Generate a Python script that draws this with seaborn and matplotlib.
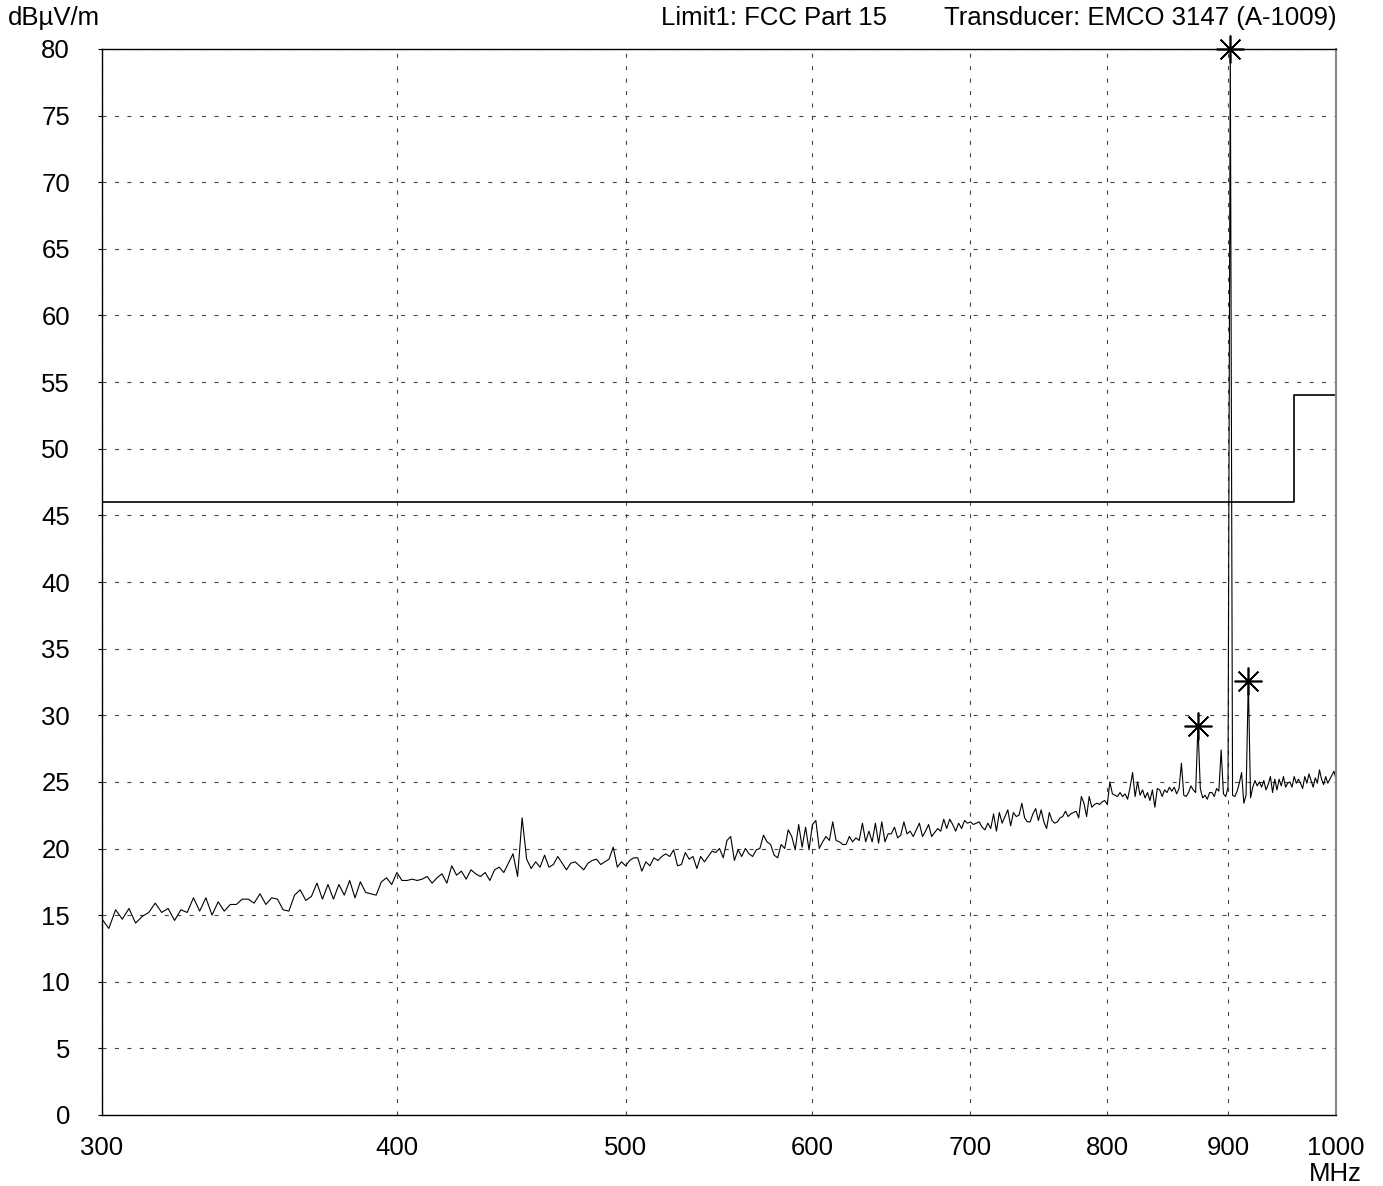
import numpy as np
import pandas as pd
import seaborn as sns
import matplotlib
matplotlib.use("Agg")
import matplotlib.pyplot as plt

# measured level (dBuV/m), one value every 2 MHz, split per 100 MHz band
level_300 = [14.7, 14.0, 15.4, 14.7, 15.5, 14.4, 14.9, 15.2, 15.9, 15.2,
             15.5, 14.6, 15.4, 15.2, 16.3, 15.3, 16.3, 15.0, 16.0, 15.3,
             15.8, 15.8, 16.2, 16.2, 15.9, 16.6, 15.8, 16.3, 16.2, 15.4,
             15.3, 16.5, 16.9, 16.1, 16.4, 17.4, 16.2, 17.3, 16.2, 17.3,
             16.5, 17.6, 16.3, 17.5, 16.7, 16.6, 16.5, 17.5, 17.8, 17.3]
level_400 = [18.2, 17.6, 17.6, 17.7, 17.6, 17.7, 17.9, 17.4, 17.8, 18.1,
             17.4, 18.7, 18.0, 18.3, 17.7, 18.4, 18.1, 17.9, 18.2, 17.6,
             18.4, 18.6, 18.2, 18.9, 19.6, 17.9, 22.3, 19.2, 18.5, 19.0,
             18.6, 19.5, 18.6, 18.8, 19.4, 18.9, 18.4, 18.9, 19.0, 18.7,
             18.4, 18.9, 19.1, 19.2, 18.8, 19.0, 19.2, 20.1, 18.6, 19.0]
level_500 = [18.7, 19.1, 19.3, 19.3, 18.3, 19.0, 18.7, 19.3, 19.1, 19.4,
             19.6, 19.4, 19.9, 18.7, 18.8, 19.7, 19.2, 19.4, 18.5, 19.4,
             19.0, 19.4, 19.8, 19.7, 20.0, 19.3, 20.6, 20.9, 19.1, 19.9,
             19.4, 20.0, 19.6, 19.4, 19.9, 20.0, 21.0, 20.5, 20.3, 19.5,
             19.3, 20.3, 20.0, 21.4, 20.9, 19.9, 21.8, 20.1, 21.6, 19.9]
level_600 = [21.8, 22.1, 20.0, 20.5, 20.9, 20.6, 22.0, 20.6, 20.5, 20.3,
             20.3, 20.9, 20.5, 20.8, 20.6, 21.9, 20.5, 21.3, 20.5, 21.9,
             20.4, 22.0, 20.5, 21.1, 21.1, 21.6, 20.8, 21.0, 22.0, 21.1,
             21.3, 20.9, 21.4, 21.9, 20.9, 21.3, 21.8, 20.9, 21.2, 21.5,
             21.3, 22.2, 21.5, 22.2, 21.8, 21.3, 21.9, 21.5, 22.1, 21.9]
level_700 = [22.0, 21.8, 21.9, 22.0, 21.6, 21.4, 21.9, 21.5, 22.6, 21.3,
             22.7, 21.9, 22.4, 22.9, 21.7, 22.7, 22.4, 22.5, 23.4, 22.3,
             22.0, 22.0, 22.6, 23.0, 22.1, 22.9, 22.0, 21.5, 22.7, 22.1,
             21.9, 22.0, 22.3, 22.4, 22.8, 22.4, 22.6, 22.7, 22.8, 22.3,
             23.9, 23.4, 22.4, 23.9, 23.1, 23.3, 23.4, 23.3, 23.5, 23.6]
level_800 = [23.3, 25.0, 24.1, 24.0, 23.9, 24.2, 23.9, 24.1, 23.7, 24.6,
             25.7, 23.9, 25.0, 24.0, 24.4, 23.8, 24.2, 23.6, 24.4, 23.1,
             24.5, 24.4, 23.9, 24.4, 24.2, 24.6, 24.3, 24.6, 24.1, 24.5,
             26.4, 24.0, 23.9, 24.2, 24.7, 24.4, 24.2, 29.2, 24.5, 23.8,
             24.0, 23.7, 24.2, 24.2, 23.9, 24.5, 24.3, 27.4, 24.1, 23.9]
level_900 = [24.6, 80.0, 24.0, 23.9, 24.3, 24.9, 25.7, 23.4, 24.0, 32.6,
             23.8, 24.6, 25.1, 24.7, 25.0, 24.6, 25.1, 24.4, 24.8, 25.4,
             24.2, 25.2, 24.4, 25.2, 24.7, 25.4, 24.6, 24.9, 25.0, 24.6,
             25.4, 24.9, 25.2, 24.9, 24.5, 25.4, 24.9, 25.6, 25.1, 24.6,
             25.3, 24.9, 25.9, 25.2, 24.8, 25.4, 24.9, 25.2, 25.5, 25.8,
             25.2]

# FCC Part 15 limit (step)
limit_freq = [300, 960, 1000]
limit_level = [46, 54, 54]

# peak markers
peak_freq = [874, 902, 918]
peak_level = [29.2, 80.0, 32.6]

x_ticks = [300, 400, 500, 600, 700, 800, 900, 1000]
y_ticks = list(range(0, 85, 5))

level = level_300 + level_400 + level_500 + level_600 + level_700 + level_800 + level_900
freq = np.arange(300, 300 + 2 * len(level), 2)
df = pd.DataFrame({"freq": freq, "level": level})
lim = pd.DataFrame({"freq": limit_freq, "level": limit_level})

sns.set_style("white")
plt.rcParams['font.family'] = ['Liberation Sans', 'DejaVu Sans']
plt.rcParams['text.color'] = 'black'
plt.rcParams['xtick.color'] = 'black'
plt.rcParams['ytick.color'] = 'black'

fig = plt.figure(figsize=(13.83, 11.86), dpi=100)
ax = fig.add_axes([102 / 1383, 1 - 1115 / 1186, 1234 / 1383, 1066 / 1186])

sns.lineplot(data=df, x="freq", y="level", ax=ax, color="black", lw=0.8,
             estimator=None)
sns.lineplot(data=lim, x="freq", y="level", ax=ax, color="black", lw=1.2,
             estimator=None, drawstyle="steps-post")
ax.plot(peak_freq, peak_level, ls="none", marker=(8, 2, 0), ms=20,
        mec="black", mew=1.2, clip_on=False, zorder=5)

ax.set_xscale("log")
ax.set_xlim(300, 1000)
ax.set_ylim(0, 80)
ax.set_xticks(x_ticks)
ax.set_xticklabels([str(t) for t in x_ticks])
ax.xaxis.set_minor_locator(matplotlib.ticker.NullLocator())
ax.set_yticks(y_ticks)
ax.set_yticklabels([str(t) for t in y_ticks])
ax.tick_params(axis="x", length=0, pad=15, labelsize=18.5, labelcolor="black")
ax.tick_params(axis="y", length=3, pad=20, labelsize=18.5, left=True,
               labelcolor="black", color="black")

ax.grid(True, color="#444444", lw=0.8, linestyle=(0, (3.6, 7.6)))
for s in ["left", "bottom", "top"]:
    ax.spines[s].set_color("black")
    ax.spines[s].set_linewidth(1.0)
ax.spines["right"].set_color("#888888")
ax.spines["right"].set_linewidth(1.5)
ax.set_xlabel("")
ax.set_ylabel("")

fig.text(8 / 1383, 1 - 18 / 1186, "dB\u00b5V/m", fontsize=18.5, ha="left", va="center")
fig.text(887 / 1383, 1 - 18 / 1186, "Limit1: FCC Part 15", fontsize=18.5, ha="right", va="center")
fig.text(1337 / 1383, 1 - 18 / 1186, "Transducer: EMCO 3147 (A-1009)", fontsize=18.5,
         ha="right", va="center")
fig.text(1362 / 1383, 1 - 1174 / 1186, "MHz", fontsize=18.5, ha="right", va="center")

fig.savefig("out.png", dpi=100)
